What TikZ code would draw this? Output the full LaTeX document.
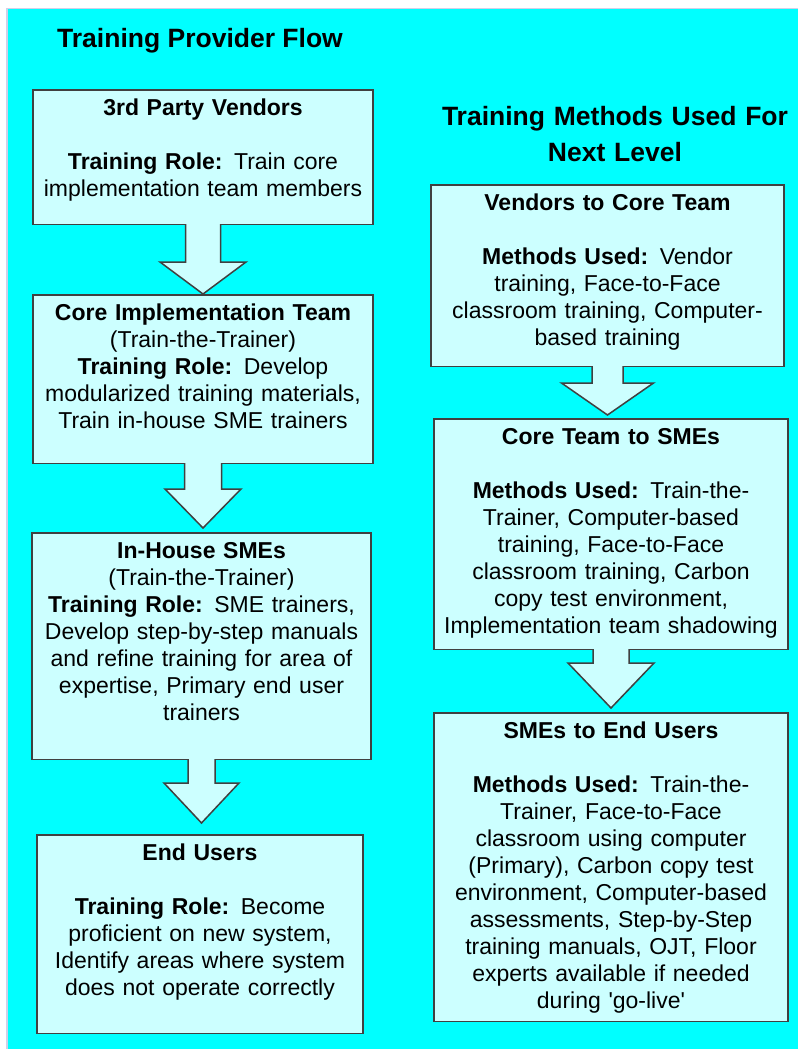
\documentclass[tikz,border=0pt]{standalone}
\usepackage{fontspec}
\setmainfont{Liberation Sans}
\usetikzlibrary{positioning,calc}

\definecolor{pagecyan}{RGB}{0,255,255}
\definecolor{pageedge}{RGB}{208,208,232}
\definecolor{boxfill}{RGB}{204,255,255}
\definecolor{boxline}{RGB}{64,64,64}

% block arrow: from, to, half shaft, half head, head length, gap before target
\newcommand{\flowarrow}[6]{%
  \path[blockarrow] let \p1=(#1.south), \p2=(#2.north) in
    (\x1-#3,\y1+1pt) -- (\x1-#3,\y2+#6+#5) -- (\x1-#4,\y2+#6+#5) -- (\x1,\y2+#6)
    -- (\x1+#4,\y2+#6+#5) -- (\x1+#3,\y2+#6+#5) -- (\x1+#3,\y1+1pt);
}

\begin{document}
\begin{tikzpicture}[x=1pt, y=-1pt,
    stage/.style={rectangle, draw=boxline, line width=1.5pt, fill=boxfill, inner xsep=4pt, inner ysep=6pt, text height=20pt, align=center, font=\fontsize{23}{27}\selectfont},
    heading/.style={align=center, font=\fontsize{26.5}{36}\selectfont\bfseries},
    blockarrow/.style={draw=boxline, line width=1.5pt, fill=boxfill, line join=miter}]
  \useasboundingbox (0,0) rectangle (798,1049);
  \fill[pageedge] (6,8) rectangle (798,1049);
  \fill[pagecyan] (8,9.5) rectangle (798,1049);

  \node (provtitle) [heading, anchor=base] at (200,48) {Training Provider Flow};
  \node (methtitle) [heading, anchor=base, text width=360pt] at (615,125) {Training Methods Used For\\Next Level};

  % left column
  \node (vendors) [stage, anchor=north, text width=332pt, text depth=102.5pt] at (203,89)
    {\textbf{3rd Party Vendors}\\[27pt]\textbf{Training Role:} Train core\\implementation team members};
  \node (coreteam) [stage, below=69pt of vendors, text width=332pt, text depth=136.5pt]
    {\textbf{Core Implementation Team}\\(Train-the-Trainer)\\\textbf{Training Role:} Develop\\modularized training materials,\\Train in-house SME trainers};
  \node (inhouse) [stage, below=68pt of coreteam, xshift=-1.5pt, text width=331pt, text depth=194.5pt]
    {\textbf{In-House SMEs}\\(Train-the-Trainer)\\\textbf{Training Role:} SME trainers,\\Develop step-by-step manuals\\and refine training for area of\\expertise, Primary end user\\trainers};
  \node (endusers) [stage, below=74pt of inhouse, xshift=-1.5pt, text width=318pt, text depth=166.5pt]
    {\textbf{End Users}\\[27pt]\textbf{Training Role:} Become\\proficient on new system,\\Identify areas where system\\does not operate correctly};

  % right column
  \node (vendcore) [stage, anchor=north, text width=345pt, text depth=149.5pt] at (607.5,184)
    {\textbf{Vendors to Core Team}\\[27pt]\textbf{Methods Used:} Vendor\\training, Face-to-Face\\classroom training, Computer-\\based training};
  \node (coresme) [stage, below=51pt of vendcore, xshift=3.5pt, text width=346pt, text depth=198.5pt]
    {\textbf{Core Team to SMEs}\\[27pt]\textbf{Methods Used:} Train-the-\\Trainer, Computer-based\\training, Face-to-Face\\classroom training, Carbon\\copy test environment,\\Implementation team shadowing};
  \node (smeusers) [stage, below=62pt of coresme, text width=346pt, text depth=276.5pt]
    {\textbf{SMEs to End Users}\\[27pt]\textbf{Methods Used:} Train-the-\\Trainer, Face-to-Face\\classroom using computer\\(Primary), Carbon copy test\\environment, Computer-based\\assessments, Step-by-Step\\training manuals, OJT, Floor\\experts available if needed\\during \textquotesingle go-live\textquotesingle};

  \flowarrow{vendors}{coreteam}{17.5pt}{43pt}{32pt}{0pt}
  \flowarrow{coreteam}{inhouse}{18.5pt}{38pt}{39pt}{4pt}
  \flowarrow{inhouse}{endusers}{13.5pt}{37.5pt}{40pt}{11pt}
  \flowarrow{vendcore}{coresme}{15.5pt}{46pt}{32pt}{3pt}
  \flowarrow{coresme}{smeusers}{18pt}{43pt}{45pt}{4pt}
\end{tikzpicture}
\end{document}
